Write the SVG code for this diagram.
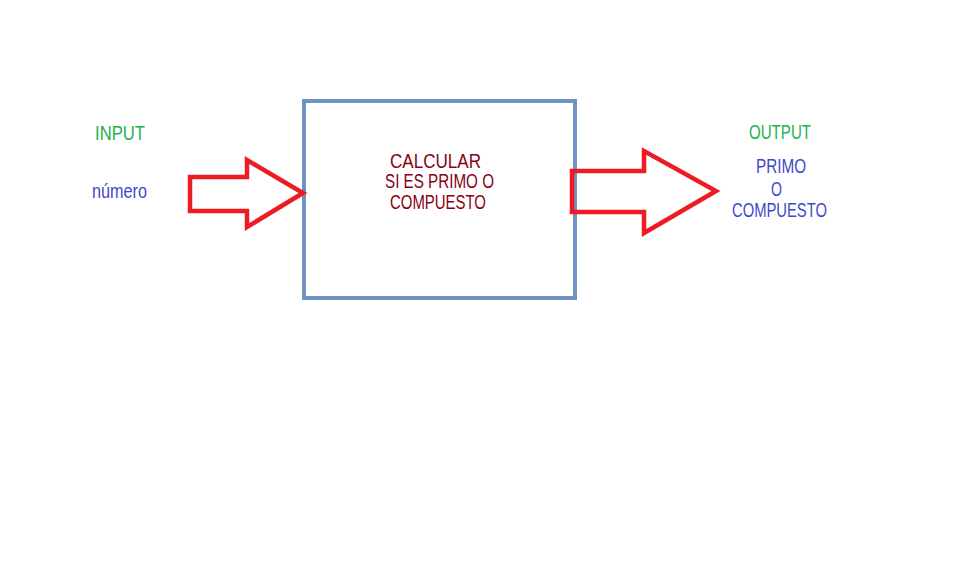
<svg xmlns="http://www.w3.org/2000/svg" width="959" height="562" viewBox="0 0 959 562">
<style>
text{font-family:"Liberation Sans",Arial,sans-serif;}
.in{fill:#22b14c;font-size:21px;}
.blue{fill:#3f48cc;font-size:20px;}
.red{fill:#880015;font-size:20px;}
.arrow{fill:none;stroke:#ed1c24;stroke-width:4.5;stroke-linejoin:miter;}
</style>
<rect width="959" height="562" fill="#ffffff"/>
<g id="input">
<text class="in" x="95" y="140" textLength="50" lengthAdjust="spacingAndGlyphs">INPUT</text>
<text class="blue" x="92" y="198" font-size="19" textLength="55" lengthAdjust="spacingAndGlyphs">número</text>
</g>
<g id="process">
<rect x="304" y="101" width="271" height="197" fill="none" stroke="#7092be" stroke-width="4"/>
<text class="red" x="390" y="168" font-size="21" textLength="91" lengthAdjust="spacingAndGlyphs">CALCULAR</text>
<text class="red" x="385" y="188" textLength="109" lengthAdjust="spacingAndGlyphs">SI ES PRIMO O</text>
<text class="red" x="390" y="209" textLength="96" lengthAdjust="spacingAndGlyphs">COMPUESTO</text>
</g>
<g id="output">
<text class="in" x="749" y="139" font-size="20" textLength="62" lengthAdjust="spacingAndGlyphs">OUTPUT</text>
<text class="blue" x="756" y="173" textLength="50" lengthAdjust="spacingAndGlyphs">PRIMO</text>
<text class="blue" x="771" y="196" textLength="11" lengthAdjust="spacingAndGlyphs">O</text>
<text class="blue" x="732" y="217" textLength="95" lengthAdjust="spacingAndGlyphs">COMPUESTO</text>
</g>
<g id="connectors">
<polygon class="arrow" points="190,177 247,177 247,160 303,193 247,227 247,211 190,211"/>
<polygon class="arrow" points="572,171 644,171 644,151 716,191 644,233 644,212 572,212"/>
</g>
</svg>
